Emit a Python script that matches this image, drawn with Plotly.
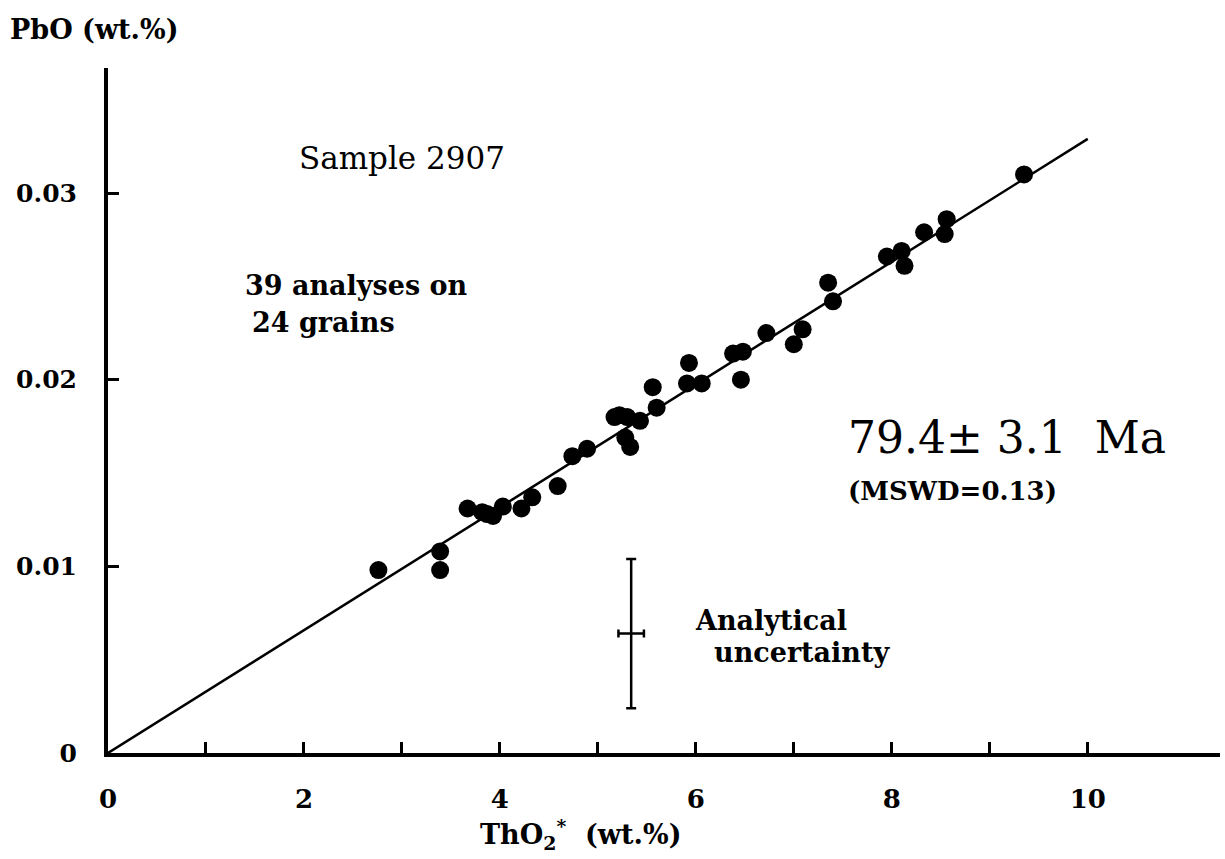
import plotly.graph_objects as go

# Data
thO2 = [2.76, 3.39, 3.39, 3.67, 3.82, 3.87, 3.93, 4.03, 4.22, 4.33, 4.59, 4.74, 4.89,
        5.17, 5.22, 5.30, 5.28, 5.33, 5.43, 5.56, 5.60, 5.91, 5.93, 6.06, 6.38, 6.48,
        6.46, 6.72, 7.00, 7.09, 7.35, 7.40, 7.95, 8.10, 8.13, 8.33, 8.54, 8.56, 9.35]
pbO = [0.0098, 0.0108, 0.0098, 0.0131, 0.0129, 0.0128, 0.0127, 0.0132, 0.0131, 0.0137,
       0.0143, 0.0159, 0.0163, 0.0180, 0.0181, 0.0180, 0.0169, 0.0164, 0.0178, 0.0196,
       0.0185, 0.0198, 0.0209, 0.0198, 0.0214, 0.0215, 0.0200, 0.0225, 0.0219, 0.0227,
       0.0252, 0.0242, 0.0266, 0.0269, 0.0261, 0.0279, 0.0278, 0.0286, 0.0310]

fit_x = [0, 10.0]
fit_y = [0, 0.0329]

unc_x = [5.34]
unc_y = [0.0064]
unc_dx = [0.13]
unc_dy = [0.0040]

x_tickvals = [0, 1, 2, 3, 4, 5, 6, 7, 8, 9, 10]
x_ticktext = ["0", "", "2", "", "4", "", "6", "", "8", "", "10"]
y_tickvals = [0, 0.01, 0.02, 0.03]
y_ticktext = ["0", "0.01", "0.02", "0.03"]

SERIF = "DejaVu Serif"

fig = go.Figure()
fig.add_trace(go.Scatter(x=fit_x, y=fit_y, mode="lines",
                         line=dict(color="black", width=2.5), showlegend=False))
fig.add_trace(go.Scatter(x=thO2, y=pbO, mode="markers",
                         marker=dict(color="black", size=18), showlegend=False))
fig.add_trace(go.Scatter(x=unc_x, y=unc_y, mode="markers",
                         marker=dict(color="black", size=1, opacity=0),
                         error_x=dict(type="data", array=unc_dx, color="black", thickness=2.5, width=4),
                         error_y=dict(type="data", array=unc_dy, color="black", thickness=2.5, width=5),
                         showlegend=False))

fig.update_layout(
    width=1225, height=859,
    margin=dict(l=108, r=5, t=68, b=106),
    plot_bgcolor="white", paper_bgcolor="white",
    font=dict(family=SERIF, color="black"),
    xaxis=dict(range=[0, 11.35], showgrid=False, zeroline=False,
               showline=True, linecolor="black", linewidth=4,
               tickmode="array", tickvals=x_tickvals, ticktext=x_ticktext,
               ticks="inside", ticklen=11, tickwidth=3, tickcolor="black",
               tickfont=dict(family=SERIF, size=26, weight="bold"),
               ticklabelstandoff=20),
    yaxis=dict(range=[0, 0.0367], showgrid=False, zeroline=False,
               showline=True, linecolor="black", linewidth=4,
               tickmode="array", tickvals=y_tickvals, ticktext=y_ticktext,
               ticks="inside", ticklen=11, tickwidth=3, tickcolor="black",
               tickfont=dict(family=SERIF, size=25, weight="bold"),
               ticklabelstandoff=22),
)

def txt(x, y, s, size, bold=True, xanchor="left"):
    fig.add_annotation(x=x, y=y, xref="paper", yref="paper", text=s, showarrow=False,
                       xanchor=xanchor, yanchor="middle",
                       font=dict(family=SERIF, size=size, color="black",
                                 weight="bold" if bold else "normal"))

W, H = 1225 - 108 - 5, 859 - 68 - 106
def px(xp): return (xp - 108) / W
def py(yp): return (753 - yp) / H

txt(px(8), py(30), "PbO (wt.%)", 27)
txt(px(297), py(158), "Sample 2907", 31, bold=False)
txt(px(243), py(285), "39 analyses on", 27)
txt(px(250), py(322), "24 grains", 27)
txt(px(846), py(437), "79.4\u00b1 3.1  Ma", 44, bold=False)
txt(px(846), py(491), "(MSWD=0.13)", 26)
txt(px(693), py(620), "Analytical", 27)
txt(px(712), py(652), "uncertainty", 27)
txt(px(580), py(834), "ThO<sub>2</sub><sup>*</sup>  (wt.%)", 27, xanchor="center")

fig.write_html("out.html")
